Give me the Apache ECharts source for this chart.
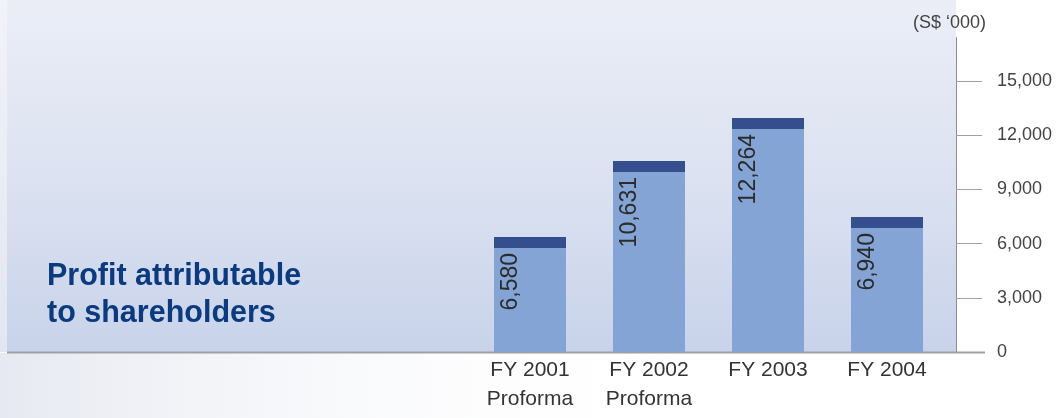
<!DOCTYPE html>
<html>
<head>
<meta charset="utf-8">
<script src="https://cdn.jsdelivr.net/npm/echarts@6/dist/echarts.min.js"></script>
<style>
  html, body { margin: 0; padding: 0; background: #ffffff; }
  #chart { width: 1061px; height: 418px; }
</style>
</head>
<body>
<div id="chart"></div>
<script>
// ---- data ----
const categories = ['FY 2001\nProforma', 'FY 2002\nProforma', 'FY 2003', 'FY 2004'];
const baseValues = [5760, 9960, 12340, 6860];   // light blue part
const capValues = [610, 610, 610, 610];          // dark cap on top of each bar
const barLabels = ['6,580', '10,631', '12,264', '6,940'];
const tickValues = [0, 3000, 6000, 9000, 12000, 15000];
const axisMax = 17400;
const unitLabel = '(S$ \u2018000)';
const titleText = 'Profit attributable\nto shareholders';

const chart = echarts.init(document.getElementById('chart'));
const fmt = v => v.toLocaleString('en-US');

const option = {
  backgroundColor: '#ffffff',
  animation: false,
  title: [
    {
      text: titleText,
      left: 47, top: 258, padding: 0,
      textStyle: { fontFamily: 'Liberation Sans', fontSize: 30.5, fontWeight: 'bold', color: '#0b3a7e', lineHeight: 37 }
    },
    {
      text: unitLabel,
      right: 75, top: 14, padding: 0,
      textStyle: { fontFamily: 'Liberation Sans', fontSize: 18, fontWeight: 'normal', color: '#444444' }
    }
  ],
  graphic: [
    {
      type: 'rect', z: -10, silent: true,
      shape: { x: 0, y: 0, width: 8, height: 352 },
      style: { fill: new echarts.graphic.LinearGradient(0, 0, 0, 1, [
        { offset: 0, color: '#f1f3f8' }, { offset: 1, color: '#e2e6f0' }]) }
    },
    {
      type: 'rect', z: -10, silent: true,
      shape: { x: 7, y: 0, width: 949, height: 352 },
      style: { fill: new echarts.graphic.LinearGradient(0, 0, 0, 1, [
        { offset: 0, color: '#ebeef7' }, { offset: 0.5, color: '#dce2f1' }, { offset: 1, color: '#c8d3ea' }]) }
    },
    {
      type: 'rect', z: -10, silent: true,
      shape: { x: 0, y: 353, width: 700, height: 65 },
      style: { fill: new echarts.graphic.LinearGradient(0, 0, 1, 0, [
        { offset: 0, color: '#e6e9f1' }, { offset: 1, color: 'rgba(255,255,255,0)' }]) }
    },
    {
      type: 'line', z: -5, silent: true,
      shape: { x1: 7, y1: 352.5, x2: 985, y2: 352.5 },
      style: { stroke: '#a0a0a4', lineWidth: 2 }
    }
  ],
  grid: { left: 470.5, right: 114.5, top: 37.6, bottom: 66, containLabel: false },
  xAxis: {
    type: 'category',
    data: categories,
    axisLine: { show: false },
    axisTick: { show: false },
    axisLabel: {
      margin: 4,
      fontFamily: 'Liberation Sans', fontSize: 21, color: '#333333', lineHeight: 29
    }
  },
  yAxis: {
    type: 'value',
    position: 'right',
    offset: 9.5,
    min: 0, max: axisMax,
    splitLine: { show: false },
    axisLine: { show: true, lineStyle: { color: '#8c8c90', width: 1 } },
    axisTick: { show: true, length: 26, customValues: tickValues, lineStyle: { color: '#a0a0a4', width: 1 } },
    axisLabel: {
      customValues: tickValues,
      margin: 41,
      formatter: v => fmt(v),
      fontFamily: 'Liberation Sans', fontSize: 18, color: '#444444'
    }
  },
  series: [
    {
      type: 'bar',
      stack: 'total',
      barWidth: 72,
      data: baseValues,
      itemStyle: { color: '#84a4d5' },
      label: {
        show: true,
        position: 'insideTopLeft',
        distance: 5,
        rotate: 90,
        align: 'right',
        verticalAlign: 'top',
        formatter: p => barLabels[p.dataIndex],
        fontFamily: 'Liberation Sans', fontSize: 23, color: '#2b2b2b'
      }
    },
    {
      type: 'bar',
      stack: 'total',
      barWidth: 72,
      data: capValues,
      itemStyle: { color: '#354f8e' }
    }
  ]
};
chart.setOption(option);
</script>
</body>
</html>
